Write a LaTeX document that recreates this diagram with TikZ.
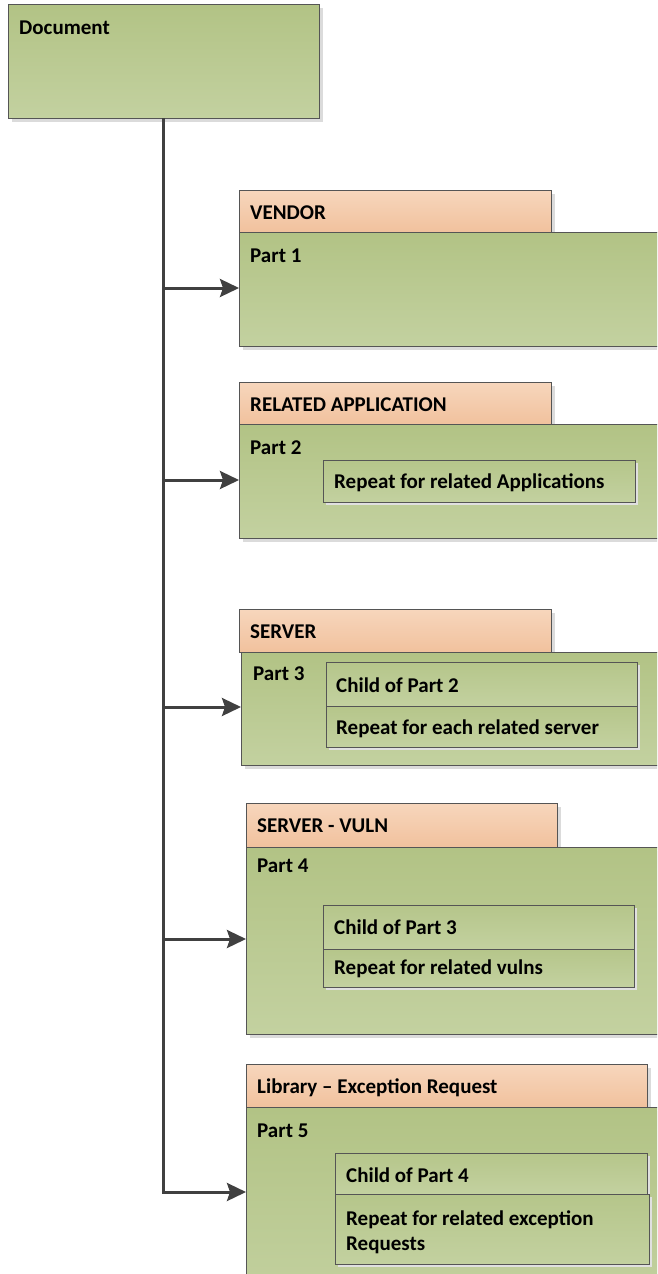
\documentclass[tikz,border=0pt]{standalone}
\usepackage{fontspec}
\setmainfont{Carlito}
\usetikzlibrary{arrows.meta,shadows}

\definecolor{greenTop}{HTML}{B2C385}
\definecolor{greenBot}{HTML}{C3D1A0}
\definecolor{peachTop}{HTML}{F7D6BC}
\definecolor{peachBot}{HTML}{F1C19D}
\definecolor{edge}{HTML}{555555}
\definecolor{wire}{HTML}{404040}

\tikzset{
  x=1pt, y=-1pt,
  panel/.style={draw=edge, line width=0.9pt, inner sep=0pt, anchor=north west,
    top color=greenTop, bottom color=greenBot,
    general shadow={fill=black!14, shadow xshift=3.5pt, shadow yshift=-3.5pt}},
  header/.style={draw=edge, line width=0.9pt, inner sep=0pt, anchor=north west,
    top color=peachTop, bottom color=peachBot,
    general shadow={fill=black!14, shadow xshift=3.5pt, shadow yshift=-3.5pt}},
  inner/.style={draw=edge, line width=0.9pt, inner sep=0pt, anchor=north west,
    top color=greenTop!80!greenBot, bottom color=greenBot,
    general shadow={fill=black!12, shadow xshift=3pt, shadow yshift=-3pt}},
  lbl/.style={anchor=base west, inner sep=0pt, font=\fontsize{21}{25}\selectfont\bfseries},
  feed/.style={draw=wire, line width=3pt, -{Stealth[length=19pt, width=18pt, inset=3pt]}},
}

\begin{document}
\begin{tikzpicture}
\useasboundingbox (0,0) rectangle (657,1274);
\clip (0,0) rectangle (657,1274);

% root document box
\node[panel, minimum width=311pt, minimum height=114pt] (doc) at (8,4) {};
\node[lbl] (docT) at (19,34) {Document};

% Part 1 : vendor
\node[header, minimum width=312pt, minimum height=42pt] (h1) at (239,190) {};
\node[panel, minimum width=440pt, minimum height=114pt] (p1) at (239,232) {};
\node[lbl] at (250,219) {VENDOR};
\node[lbl] at (250,262) {Part 1};

% Part 2 : related application
\node[header, minimum width=312pt, minimum height=42pt] (h2) at (239,382) {};
\node[panel, minimum width=440pt, minimum height=114pt] (p2) at (239,424) {};
\node[lbl] at (250,411) {RELATED APPLICATION};
\node[lbl] at (250,454) {Part 2};
\node[inner, minimum width=312pt, minimum height=42pt] (p2a) at (323,460) {};
\node[lbl] at (334,488) {Repeat for related Applications};

% Part 3 : server
\node[header, minimum width=312pt, minimum height=43pt] (h3) at (239,609) {};
\node[panel, minimum width=440pt, minimum height=113pt] (p3) at (241,652) {};
\node[lbl] at (250,638) {SERVER};
\node[lbl] at (253,680) {Part 3};
\node[inner, minimum width=311pt, minimum height=44pt] (p3a) at (326,662) {};
\node[inner, minimum width=311pt, minimum height=41pt] (p3b) at (326,706) {};
\node[lbl] at (336,692) {Child of Part 2};
\node[lbl] at (336,734) {Repeat for each related server};

% Part 4 : server vulnerabilities
\node[header, minimum width=311pt, minimum height=44pt] (h4) at (246,803) {};
\node[panel, minimum width=440pt, minimum height=187pt] (p4) at (246,847) {};
\node[lbl] at (257,832) {SERVER - VULN};
\node[lbl] at (257,872) {Part 4};
\node[inner, minimum width=311pt, minimum height=44pt] (p4a) at (323,905) {};
\node[inner, minimum width=311pt, minimum height=38pt] (p4b) at (323,949) {};
\node[lbl] at (334,934) {Child of Part 3};
\node[lbl] at (334,974) {Repeat for related vulns};

% Part 5 : exception requests
\node[header, minimum width=401pt, minimum height=43pt] (h5) at (246,1064) {};
\node[panel, minimum width=440pt, minimum height=200pt] (p5) at (246,1107) {};
\node[lbl] at (257,1093) {Library – Exception Request};
\node[lbl] at (257,1137) {Part 5};
\node[inner, minimum width=312pt, minimum height=41pt] (p5a) at (335,1153) {};
\node[inner, minimum width=314pt, minimum height=70pt] (p5b) at (335,1194) {};
\node[lbl] at (346,1182) {Child of Part 4};
\node[lbl] at (346,1225) {Repeat for related exception};
\node[lbl] at (346,1250) {Requests};

% trunk and branches
\coordinate (trunkTop) at (163,118);
\coordinate (j1) at (163,288);
\coordinate (j2) at (163,480);
\coordinate (j3) at (163,707);
\coordinate (j4) at (163,939);
\coordinate (j5) at (163,1192);
\draw[draw=wire, line width=3pt] (trunkTop) -- (163,1193.5);
\draw[feed] (j1) -- (p1.west |- j1);
\draw[feed] (j2) -- (p2.west |- j2);
\draw[feed] (j3) -- (p3.west |- j3);
\draw[feed] (j4) -- (p4.west |- j4);
\draw[feed] (j5) -- (p5.west |- j5);
\end{tikzpicture}
\end{document}
